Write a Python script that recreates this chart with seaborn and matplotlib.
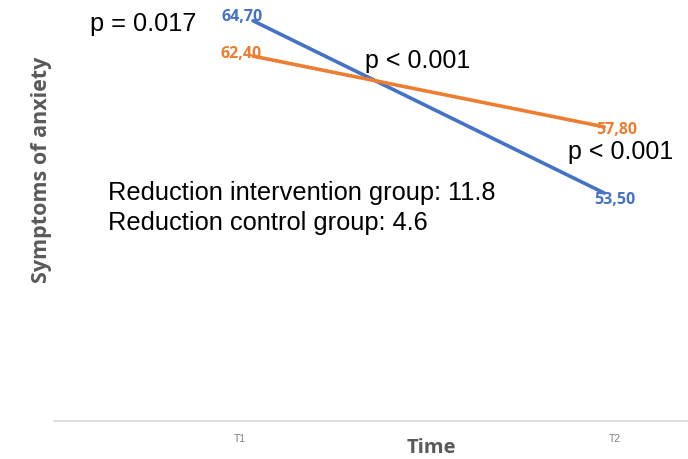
import pandas as pd
import matplotlib
matplotlib.use("Agg")
import matplotlib.pyplot as plt
import matplotlib.transforms as mtransforms
import seaborn as sns

sns.set_theme(style="white")
plt.rcParams['font.family'] = ['Liberation Sans', 'DejaVu Sans']

# Data
times = ["T1", "T2"]
intervention = [64.70, 53.50]
control = [62.40, 57.80]
groups = ["Intervention", "Control"]
colors = {"Intervention": "#4472C4", "Control": "#ED7D31"}

df = pd.DataFrame({
    "time": times * 2,
    "score": intervention + control,
    "group": [groups[0]] * len(times) + [groups[1]] * len(times),
})

fig = plt.figure(figsize=(6.88, 4.59), dpi=100)
ax = fig.add_axes([54 / 688, 1 - 421 / 459, 634 / 688, 421 / 459])

sns.lineplot(data=df, x="time", y="score", hue="group", palette=colors,
             linewidth=2.6, legend=False, ax=ax, sort=False)

ax.set_xlim(-0.567, 1.239)
ax.set_ylim(38.67, 66.05)

# spines / ticks
for s in ["top", "right", "left"]:
    ax.spines[s].set_visible(False)
ax.spines["bottom"].set_color("#d9d9d9")
ax.spines["bottom"].set_linewidth(1.2)
ax.set_yticks([])
ax.tick_params(axis="x", length=0, pad=9, labelsize=7.5, labelcolor="#7f7f7f")

# tick labels sit a bit outside the line ends in the original
for lbl, dx in zip(ax.get_xticklabels(), [-13, 11]):
    lbl.set_transform(lbl.get_transform() +
                      mtransforms.ScaledTranslation(dx / 100, 0, fig.dpi_scale_trans))

ax.set_xlabel("Time", fontsize=14.5, fontweight="bold", color="#595959",
              family=["Open Sans", "DejaVu Sans"], va="center")
ax.xaxis.set_label_coords(0.595, -0.064)
ax.set_ylabel("Symptoms of anxiety", fontsize=15.5, fontweight="bold", color="#595959",
              family=["Open Sans", "DejaVu Sans"], va="center")
ax.yaxis.set_label_coords(-0.02, 0.596)

# data labels
def fmt(v):
    return f"{v:.2f}".replace(".", ",")

lab_font = dict(fontsize=11.5, fontweight="bold", family=["Open Sans", "DejaVu Sans"])
ax.annotate(fmt(intervention[0]), (0, intervention[0]), xytext=(10, 4),
            textcoords="offset pixels", ha="right", va="center",
            color=colors["Intervention"], **lab_font)
ax.annotate(fmt(control[0]), (0, control[0]), xytext=(9, 2),
            textcoords="offset pixels", ha="right", va="center",
            color=colors["Control"], **lab_font)
ax.annotate(fmt(control[1]), (1, control[1]), xytext=(-8, -3),
            textcoords="offset pixels", ha="left", va="center",
            color=colors["Control"], **lab_font)
ax.annotate(fmt(intervention[1]), (1, intervention[1]), xytext=(-10, -7),
            textcoords="offset pixels", ha="left", va="center",
            color=colors["Intervention"], **lab_font)

# annotations
note = dict(color="black", transform=ax.transAxes, va="center", ha="left")
ax.text(0.0568, 0.943, "p = 0.017", fontsize=18.3, **note)
ax.text(0.4905, 0.855, "p < 0.001", fontsize=18, **note)
ax.text(0.8107, 0.639, "p < 0.001", fontsize=18, **note)
ax.text(0.0852, 0.541, "Reduction intervention group: 11.8", fontsize=18.3, **note)
ax.text(0.0852, 0.470, "Reduction control group: 4.6", fontsize=18.3, **note)

fig.savefig("out.png", dpi=100)
